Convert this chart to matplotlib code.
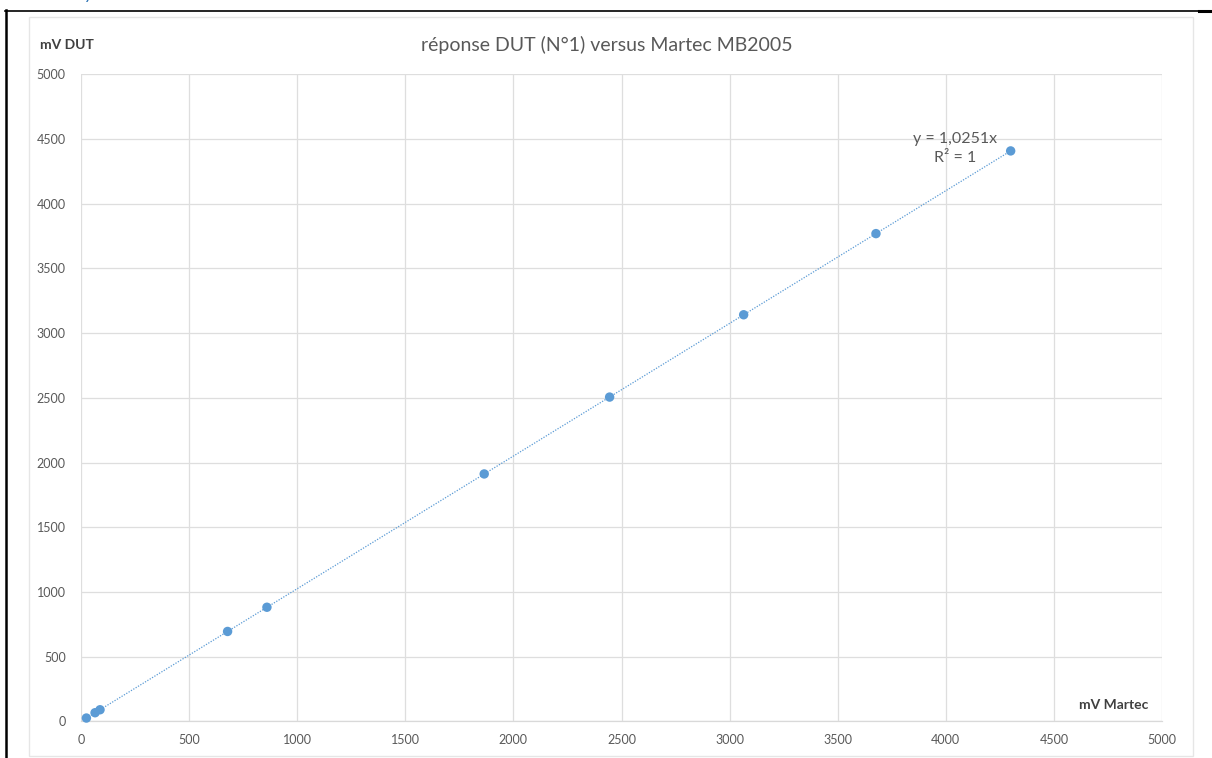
import matplotlib.pyplot as plt
from matplotlib.lines import Line2D
from matplotlib.patches import Rectangle
import numpy as np

plt.rcParams['font.family'] = ['Lato', 'DejaVu Sans']

# mesures : tension Martec (x) et tension DUT (y), en mV
mv_martec = [25, 65, 88, 678, 860, 1865, 2445, 3065, 3677, 4300]
mv_dut = [26, 67, 90, 695, 882, 1912, 2506, 3142, 3769, 4408]
pente = 1.0251  # courbe de tendance linéaire passant par l'origine
r2 = 1

ticks = list(range(0, 5001, 500))

W, H = 1212, 758
fig = plt.figure(figsize=(W / 100, H / 100), dpi=100)

def fx(px):
    return px / W

def fy(py):
    return 1 - py / H

# cadre de la page autour du graphique
fig.add_artist(Line2D([fx(5), fx(1198)], [fy(10.5), fy(10.5)], color='black', lw=1.2))
fig.add_artist(Line2D([fx(1199), fx(1212)], [fy(11), fy(11)], color='black', lw=2.2))
fig.add_artist(Line2D([fx(6), fx(6)], [fy(10), fy(758)], color='black', lw=1.8))
fig.text(fx(84), fy(-1), 'y', color='#2E75B6', fontsize=13, style='italic',
         ha='left', va='baseline')

# bordure de la zone de graphique
fig.add_artist(Rectangle((fx(29), fy(756)), fx(1193) - fx(29), fy(17) - fy(756),
                         transform=fig.transFigure, fill=False,
                         edgecolor='#E6E6E6', lw=1))

ax = fig.add_axes([fx(81), fy(721.4), fx(1162) - fx(81), fy(74.3) - fy(721.4)])
ax.set_xlim(0, 5000)
ax.set_ylim(0, 5000)
ax.set_xticks(ticks)
ax.set_yticks(ticks)
ax.grid(True, color='#DEDEDE', lw=0.9)
ax.set_axisbelow(True)
for side in ['top', 'right', 'left']:
    ax.spines[side].set_visible(False)
ax.spines['bottom'].set_color('#D9D9D9')
ax.spines['bottom'].set_linewidth(0.9)
ax.tick_params(length=0, labelsize=9, labelcolor='#595959')
ax.tick_params(axis='y', pad=11)
ax.tick_params(axis='x', pad=9)

# courbe de tendance
xt = np.array([min(mv_martec), max(mv_martec)])
ax.plot(xt, pente * xt, color='#5B9BD5', lw=0.9, linestyle=(0, (1, 1.2)), zorder=2)
ax.scatter(mv_martec, mv_dut, s=46, color='#5B9BD5', edgecolors='none', zorder=3,
           clip_on=False)

eq = 'y = {}x\nR² = {}'.format(('%.4f' % pente).replace('.', ','), r2)
ax.text(0.8085, 0.8860, eq, transform=ax.transAxes, ha='center', va='center',
        fontsize=11.5, color='#595959', linespacing=1.45)

fig.text(fx(607), fy(45), 'réponse DUT (N°1) versus Martec MB2005', ha='center',
         va='center', fontsize=14, color='#595959')
fig.text(fx(40), fy(45), 'mV DUT', ha='left', va='center', fontsize=10,
         fontweight='bold', color='#404040')
fig.text(fx(1148), fy(705), 'mV Martec', ha='right', va='center', fontsize=10,
         fontweight='bold', color='#404040')

fig.savefig('out.png', dpi=100, facecolor='white')
